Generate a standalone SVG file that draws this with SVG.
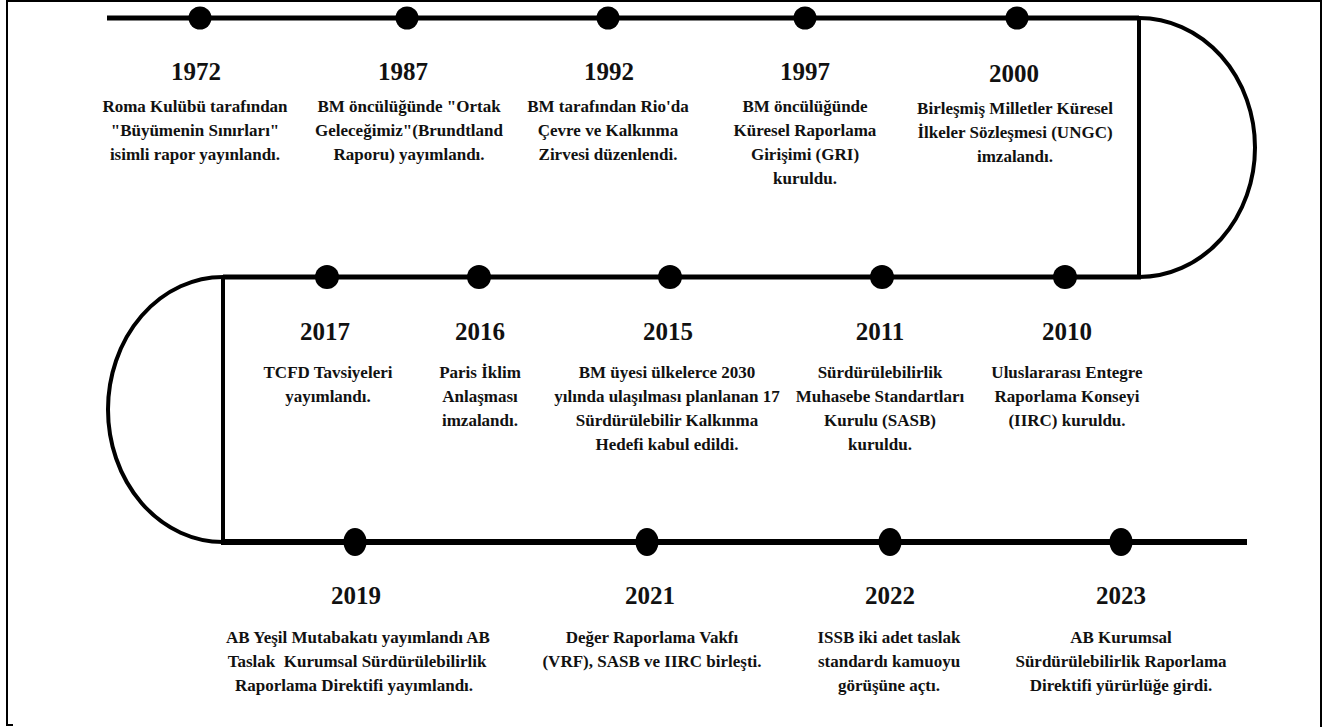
<svg xmlns="http://www.w3.org/2000/svg" width="1335" height="727" viewBox="0 0 1335 727">
<style>
.yr{font-family:"Liberation Serif","Times New Roman",serif;font-weight:bold;font-size:25px;fill:#111;text-anchor:middle}
.ds{font-family:"Liberation Serif","Times New Roman",serif;font-weight:bold;font-size:17px;fill:#111;text-anchor:middle}
.ln{stroke:#000;fill:none;stroke-linecap:butt}
.dot{fill:#000}
</style>
<rect width="1335" height="727" fill="#fff"/>
<path d="M13 725 H7 V1 H1321 V727" fill="none" stroke="#000" stroke-width="2"/>
<g id="connectors">
<line class="ln" x1="107" y1="18" x2="1139" y2="18" stroke-width="5"/>
<path class="ln" d="M1139 18 A116 129.5 0 0 1 1139 277" stroke-width="4"/>
<line class="ln" x1="1139" y1="18" x2="1139" y2="277" stroke-width="4"/>
<line class="ln" x1="223" y1="277" x2="1141" y2="277" stroke-width="5"/>
<path class="ln" d="M223 277 A115 132.5 0 0 0 223 542" stroke-width="4"/>
<line class="ln" x1="223" y1="277" x2="223" y2="542" stroke-width="4"/>
<line class="ln" x1="221" y1="542" x2="1247" y2="542" stroke-width="6"/>
</g>
<g id="n1972"><circle class="dot" cx="200" cy="18" r="11.5"/><text class="yr" x="196" y="80">1972</text>
<text class="ds" x="195" y="112">Roma Kulübü tarafından</text><text class="ds" x="195" y="136">"Büyümenin Sınırları"</text><text class="ds" x="195" y="160">isimli rapor yayınlandı.</text></g>
<g id="n1987"><circle class="dot" cx="407" cy="18" r="11.5"/><text class="yr" x="403" y="80">1987</text>
<text class="ds" x="409" y="112">BM öncülüğünde "Ortak</text><text class="ds" x="409" y="136">Geleceğimiz"(Brundtland</text><text class="ds" x="409" y="160">Raporu) yayımlandı.</text></g>
<g id="n1992"><circle class="dot" cx="608" cy="18" r="11.5"/><text class="yr" x="609" y="80">1992</text>
<text class="ds" x="608" y="112">BM tarafından Rio'da</text><text class="ds" x="608" y="136">Çevre ve Kalkınma</text><text class="ds" x="608" y="160">Zirvesi düzenlendi.</text></g>
<g id="n1997"><circle class="dot" cx="805" cy="18" r="11.5"/><text class="yr" x="805" y="80">1997</text>
<text class="ds" x="805" y="112">BM öncülüğünde</text><text class="ds" x="805" y="136">Küresel Raporlama</text><text class="ds" x="805" y="160">Girişimi (GRI)</text><text class="ds" x="805" y="184">kuruldu.</text></g>
<g id="n2000"><circle class="dot" cx="1017" cy="18" r="11.5"/><text class="yr" x="1014" y="82">2000</text>
<text class="ds" x="1015" y="114">Birleşmiş Milletler Küresel</text><text class="ds" x="1015" y="138">İlkeler Sözleşmesi (UNGC)</text><text class="ds" x="1015" y="162">imzalandı.</text></g>
<g id="n2017"><circle class="dot" cx="327" cy="277" r="12"/><text class="yr" x="325" y="340">2017</text>
<text class="ds" x="328" y="378">TCFD Tavsiyeleri</text><text class="ds" x="328" y="402">yayımlandı.</text></g>
<g id="n2016"><circle class="dot" cx="479" cy="277" r="12"/><text class="yr" x="480" y="340">2016</text>
<text class="ds" x="480" y="378">Paris İklim</text><text class="ds" x="480" y="402">Anlaşması</text><text class="ds" x="480" y="426">imzalandı.</text></g>
<g id="n2015"><circle class="dot" cx="670" cy="277" r="12"/><text class="yr" x="668" y="340">2015</text>
<text class="ds" x="667" y="378">BM üyesi ülkelerce 2030</text><text class="ds" x="667" y="402">yılında ulaşılması planlanan 17</text><text class="ds" x="667" y="426">Sürdürülebilir Kalkınma</text><text class="ds" x="667" y="450">Hedefi kabul edildi.</text></g>
<g id="n2011"><circle class="dot" cx="882" cy="277" r="12"/><text class="yr" x="880" y="340">2011</text>
<text class="ds" x="880" y="378">Sürdürülebilirlik</text><text class="ds" x="880" y="402">Muhasebe Standartları</text><text class="ds" x="880" y="426">Kurulu (SASB)</text><text class="ds" x="880" y="450">kuruldu.</text></g>
<g id="n2010"><circle class="dot" cx="1065" cy="277" r="12"/><text class="yr" x="1067" y="340">2010</text>
<text class="ds" x="1067" y="378">Uluslararası Entegre</text><text class="ds" x="1067" y="402">Raporlama Konseyi</text><text class="ds" x="1067" y="426">(IIRC) kuruldu.</text></g>
<g id="n2019"><ellipse class="dot" cx="355" cy="542" rx="11.5" ry="14"/><text class="yr" x="356" y="604">2019</text>
<text class="ds" x="358" y="643">AB Yeşil Mutabakatı yayımlandı AB</text><text class="ds" x="357" y="667" xml:space="preserve">Taslak  Kurumsal Sürdürülebilirlik</text><text class="ds" x="354" y="691">Raporlama Direktifi yayımlandı.</text></g>
<g id="n2021"><ellipse class="dot" cx="647" cy="542" rx="11.5" ry="14"/><text class="yr" x="650" y="604">2021</text>
<text class="ds" x="652" y="643">Değer Raporlama Vakfı</text><text class="ds" x="652" y="667">(VRF), SASB ve IIRC birleşti.</text></g>
<g id="n2022"><ellipse class="dot" cx="890" cy="542" rx="11.5" ry="14"/><text class="yr" x="890" y="604">2022</text>
<text class="ds" x="889" y="643">ISSB iki adet taslak</text><text class="ds" x="889" y="667">standardı kamuoyu</text><text class="ds" x="889" y="691">görüşüne açtı.</text></g>
<g id="n2023"><ellipse class="dot" cx="1121" cy="542" rx="11.5" ry="14"/><text class="yr" x="1121" y="604">2023</text>
<text class="ds" x="1121" y="643">AB Kurumsal</text><text class="ds" x="1121" y="667">Sürdürülebilirlik Raporlama</text><text class="ds" x="1121" y="691">Direktifi yürürlüğe girdi.</text></g>
</svg>
